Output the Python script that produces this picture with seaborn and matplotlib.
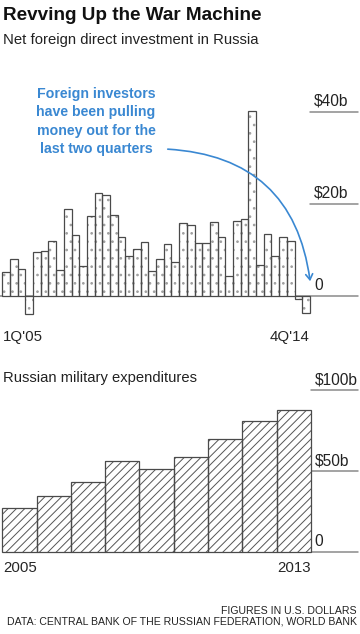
import matplotlib
matplotlib.use("Agg")
import matplotlib.pyplot as plt
import matplotlib.transforms as mtransforms
from matplotlib.patches import FancyArrowPatch
import seaborn as sns

# --- data -------------------------------------------------------------
quarters = [f"{q}Q'{str(y)[2:]}" for y in range(2005, 2015) for q in range(1, 5)]
fdi = [5.3, 8.0, 5.8, -4.0, 9.6, 9.8, 12.0, 5.6,
       18.8, 13.3, 6.5, 17.3, 22.3, 21.9, 17.7, 12.8,
       8.6, 10.3, 11.8, 5.5, 8.0, 11.4, 7.4, 15.9,
       15.5, 11.6, 11.6, 16.1, 12.8, 4.3, 16.4, 16.8,
       40.2, 6.7, 13.5, 8.6, 12.8, 12.0, -0.7, -3.6]
fdi_ticks = [0, 20, 40]
fdi_tick_labels = ["0", "$20b", "$40b"]

years = ["2005", "2006", "2007", "2008", "2009", "2010", "2011", "2012", "2013"]
military = [27.1, 34.3, 43.4, 56.2, 51.2, 58.7, 69.6, 80.8, 87.8]
mil_ticks = [0, 50, 100]
mil_tick_labels = ["0", "$50b", "$100b"]

# --- style ------------------------------------------------------------
sns.set_style("white")
plt.rcParams["font.family"] = ["Liberation Sans", "DejaVu Sans"]
plt.rcParams["hatch.linewidth"] = 0.7

W, H = 360, 634
fig = plt.figure(figsize=(W / 100, H / 100), dpi=100)
edge = "#4a4a4a"
grid = "#8a8a8a"
blue = "#3a88d2"
tick_fs = 11.2


def px_axes(top, bottom):
    return fig.add_axes([0, 1 - bottom / H, 1, (bottom - top) / H])


def hatched_bars(ax, cats, vals, hatch, hatch_color):
    # hatch layer first, then the dark outlines on top
    sns.barplot(x=cats, y=vals, order=cats, ax=ax, width=1, color="white",
                edgecolor=hatch_color, linewidth=0, hatch=hatch,
                saturation=1, zorder=2)
    sns.barplot(x=cats, y=vals, order=cats, ax=ax, width=1, fill=False,
                color=edge, linewidth=0.9, saturation=1, zorder=3)


def right_ticks(ax, ticks, labels, x0, x1=358 / W):
    tr = mtransforms.blended_transform_factory(ax.transAxes, ax.transData)
    for t, lab in zip(ticks, labels):
        ax.plot([x0, x1], [t, t], color=grid, lw=1.1, transform=tr, zorder=1)
        ax.annotate(lab, xy=(x0, t), xycoords=tr, xytext=(4, 3),
                    textcoords="offset pixels", ha="left", va="bottom",
                    fontsize=tick_fs, color="#222")


# --- top: net FDI -----------------------------------------------------
ax1 = px_axes(60, 330)
hatched_bars(ax1, quarters, fdi, "..", "#a0a0a0")
ax1.set_xlim(-0.8, -0.8 + W / 7.69)
ax1.set_ylim(-7.4, 51.3)
ax1.axis("off")
tr1 = mtransforms.blended_transform_factory(ax1.transAxes, ax1.transData)
ax1.plot([0, 358 / W], [0, 0], color=grid, lw=1.1, transform=tr1, zorder=1)
right_ticks(ax1, fdi_ticks[1:], fdi_tick_labels[1:], 310 / W)
ax1.annotate(fdi_tick_labels[0], xy=(310 / W, 0), xycoords=tr1, xytext=(4, 3),
             textcoords="offset pixels", ha="left", va="bottom",
             fontsize=tick_fs, color="#222")

fig.text(3 / W, 1 - 337 / H, quarters[0], ha="left", va="center", fontsize=10.8)
fig.text(310 / W, 1 - 337 / H, quarters[-1], ha="right", va="center", fontsize=10.8)

fig.text(96 / W, 1 - 121.5 / H,
         "Foreign investors\nhave been pulling\nmoney out for the\nlast two quarters",
         ha="center", va="center", fontsize=10.2, fontweight="bold",
         color=blue, linespacing=1.42)
arrow = FancyArrowPatch(posA=(165, H - 149), posB=(310.5, H - 284),
                        connectionstyle="arc3,rad=-0.42",
                        arrowstyle="->,head_length=4,head_width=2.5",
                        color=blue, lw=1.2, transform=None, zorder=5)
fig.add_artist(arrow)

# --- bottom: military spending ---------------------------------------
ax2 = px_axes(380, 560)
hatched_bars(ax2, years, military, "////", "#555555")
ax2.set_xlim(-0.567, -0.567 + W / 34.3)
ax2.set_ylim(-5.1, 106.4)
ax2.axis("off")
right_ticks(ax2, mil_ticks, mil_tick_labels, 310.7 / W)

fig.text(3 / W, 1 - 568 / H, years[0], ha="left", va="center", fontsize=10.8)
fig.text(310.7 / W, 1 - 568 / H, years[-1], ha="right", va="center", fontsize=10.8)

# --- titles & footer --------------------------------------------------
fig.text(3 / W, 1 - 15.5 / H, "Revving Up the War Machine", ha="left", va="center",
         fontsize=13.6, fontweight="bold", color="#111")
fig.text(3 / W, 1 - 40 / H, "Net foreign direct investment in Russia", ha="left",
         va="center", fontsize=10.7, color="#222")
fig.text(3 / W, 1 - 378 / H, "Russian military expenditures", ha="left",
         va="center", fontsize=10.6, color="#222")
fig.text(357 / W, 1 - 611 / H, "FIGURES IN U.S. DOLLARS", ha="right", va="center",
         fontsize=7.6, color="#222")
fig.text(357 / W, 1 - 622 / H, "DATA: CENTRAL BANK OF THE RUSSIAN FEDERATION, WORLD BANK",
         ha="right", va="center", fontsize=7.6, color="#222")

fig.savefig("out.png", dpi=100, facecolor="white")
